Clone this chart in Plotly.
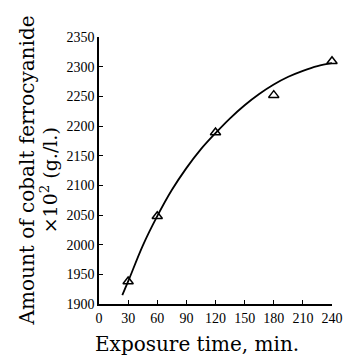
import plotly.graph_objects as go

# Measured points (triangles)
exposure_min = [30, 60, 120, 180, 240]
amount = [1938, 2048, 2189, 2252, 2309]

# Smooth fitted curve
curve_x = [24, 30, 45, 60, 75, 90, 105, 120, 135, 150, 165, 180, 195, 210, 225, 240]
curve_y = [1915, 1938, 1998, 2048, 2092, 2129, 2161, 2188, 2213, 2235, 2254, 2270, 2283, 2293, 2301, 2306]

x_ticks = [0, 30, 60, 90, 120, 150, 180, 210, 240]
y_ticks = [1900, 1950, 2000, 2050, 2100, 2150, 2200, 2250, 2300, 2350]

TICK_FONT = "Liberation Serif, Times New Roman, serif"
TITLE_FONT = "DejaVu Serif, serif"

fig = go.Figure()
fig.add_trace(go.Scatter(x=curve_x, y=curve_y, mode="lines",
                         line=dict(color="black", width=1.8, shape="spline", smoothing=1.0),
                         hoverinfo="skip", cliponaxis=False))
fig.add_trace(go.Scatter(x=exposure_min, y=amount, mode="markers", cliponaxis=False,
                         marker=dict(symbol="triangle-up-open", size=9, color="black",
                                     line=dict(width=1.5, color="black"))))

# the page body adds an 8px margin, so the figure is sized/offset to compensate
fig.update_layout(
    width=344, height=348,
    margin=dict(l=91, r=9, t=29, b=52),
    paper_bgcolor="white", plot_bgcolor="white",
    showlegend=False,
    font=dict(family=TICK_FONT, color="black"),
    xaxis=dict(range=[0, 240], tickvals=x_ticks, ticktext=[str(v) for v in x_ticks],
               showgrid=False, zeroline=False, showline=True, linecolor="black", linewidth=1.5,
               ticks="inside", ticklen=4, tickwidth=1.2, tickcolor="black",
               ticklabeloverflow="allow",
               tickfont=dict(size=14, family=TICK_FONT)),
    yaxis=dict(range=[1900, 2350], tickvals=y_ticks, ticktext=[str(v) for v in y_ticks],
               showgrid=False, zeroline=False, showline=True, linecolor="black", linewidth=1.5,
               ticks="inside", ticklen=4, tickwidth=1.2, tickcolor="black",
               ticklabeloverflow="allow",
               tickfont=dict(size=14, family=TICK_FONT)),
    annotations=[
        dict(text="Amount of cobalt ferrocyanide", textangle=-90, xref="paper", yref="paper",
             x=(24 - 99) / 244, y=(304 - 170) / 267, xanchor="center", yanchor="middle",
             showarrow=False, font=dict(size=20, family=TITLE_FONT)),
        dict(text="×10<sup>2</sup> (g./l.)", textangle=-90, xref="paper", yref="paper",
             x=(47 - 99) / 244, y=(304 - 180) / 267, xanchor="center", yanchor="middle",
             showarrow=False, font=dict(size=19, family=TITLE_FONT)),
        dict(text="Exposure time, min.", xref="paper", yref="paper",
             x=(202 - 99) / 244, y=(304 - 344) / 267, xanchor="center", yanchor="middle",
             showarrow=False, font=dict(size=20, family=TITLE_FONT)),
    ],
)

fig.write_html("out.html")
